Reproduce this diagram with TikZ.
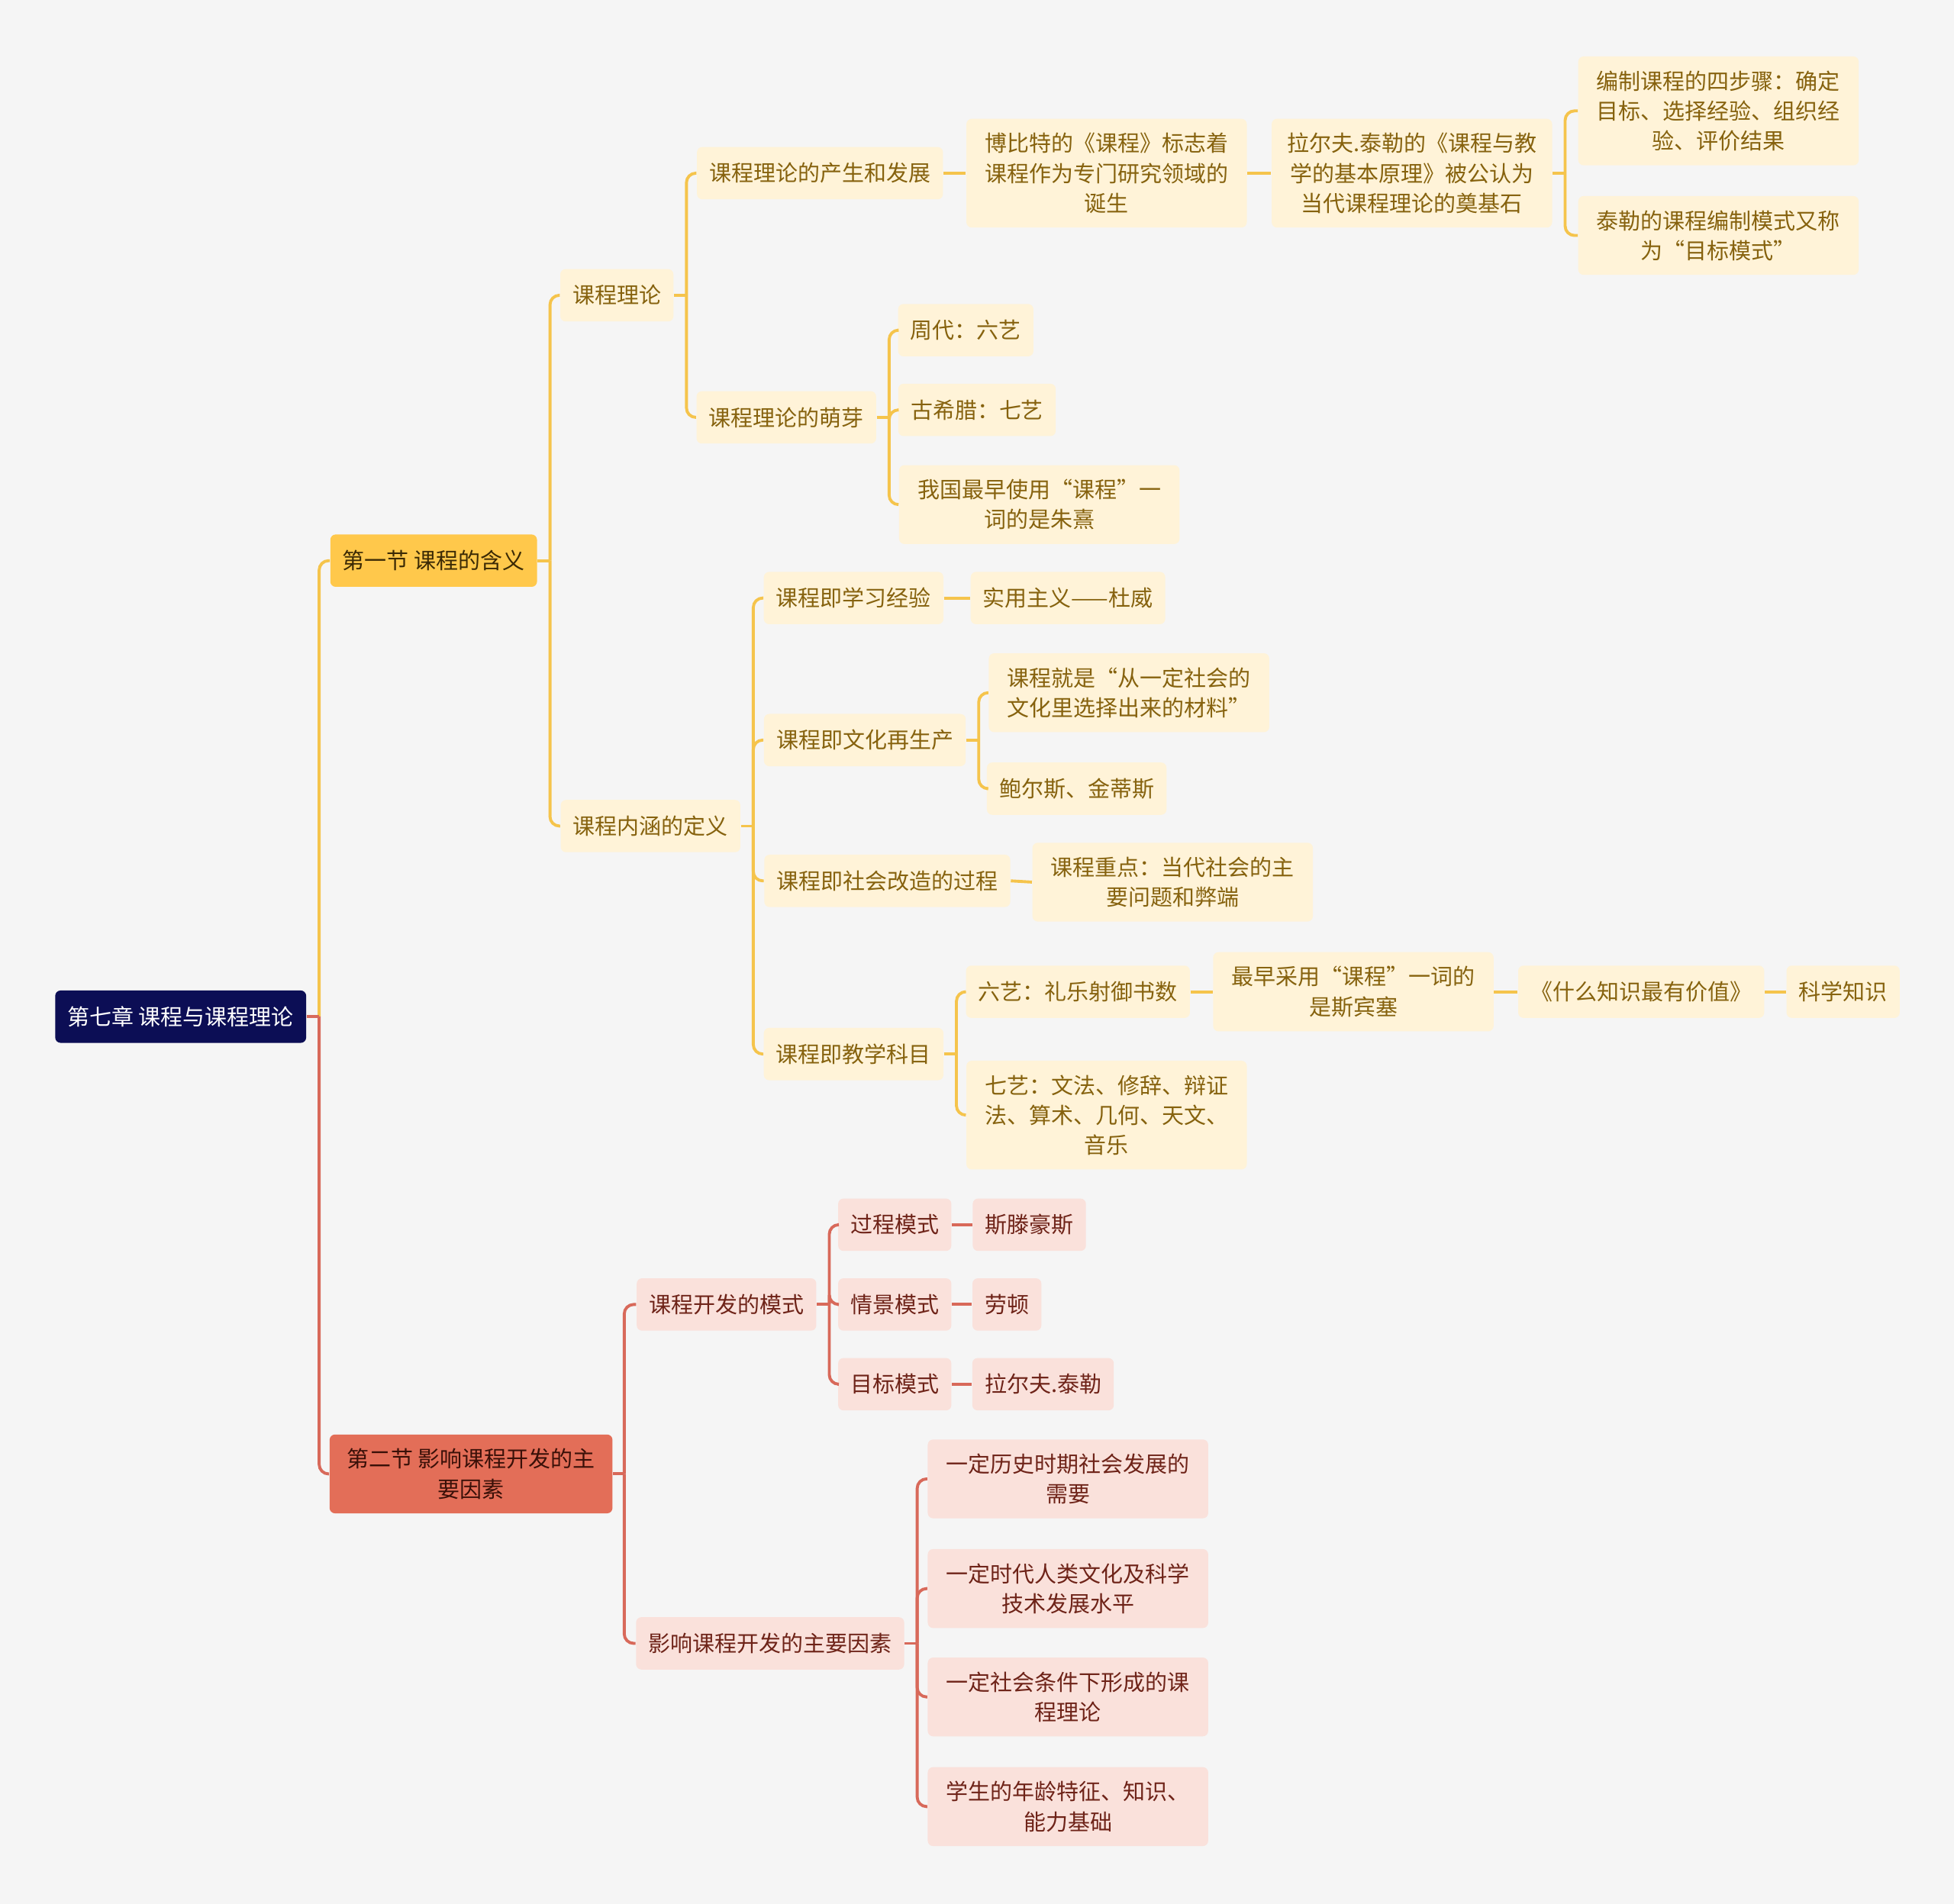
\documentclass[tikz,border=0pt]{standalone}
\usepackage{fontspec}
\setmainfont{Noto Sans CJK SC}
\usepackage{tikz}
\usetikzlibrary{positioning}

\definecolor{bgc}{HTML}{F5F5F5}
\definecolor{rootc}{HTML}{0C0E55}
\definecolor{secyc}{HTML}{FFC84B}
\definecolor{secyt}{HTML}{3B2A05}
\definecolor{secrc}{HTML}{E36E58}
\definecolor{secrt}{HTML}{3A1008}
\definecolor{itemyc}{HTML}{FFF3D8}
\definecolor{itemyt}{HTML}{86620E}
\definecolor{itemrc}{HTML}{FAE1DB}
\definecolor{itemrt}{HTML}{6E2318}
\definecolor{linky}{HTML}{F5C44C}
\definecolor{linkr}{HTML}{D8695A}

\tikzset{
  base/.style={rounded corners=2pt, inner xsep=4.6pt, inner ysep=5.3pt,
               minimum height=0.686cm, align=center,
               font=\fontsize{8.25}{11.15}\selectfont},
  rootbox/.style={base, fill=rootc, text=white},
  secy/.style={base, fill=secyc, text=secyt},
  secr/.style={base, fill=secrc, text=secrt, minimum width=3.706cm},
  itemy/.style={base, fill=itemyc, text=itemyt},
  itemr/.style={base, fill=itemrc, text=itemrt},
  wide/.style={minimum width=3.674cm},
  ylink/.style={draw=linky, line width=1.1pt, rounded corners=3.5pt},
  rlink/.style={draw=linkr, line width=1.1pt, rounded corners=3.5pt},
}

\begin{document}
\begin{tikzpicture}[x=0.016327cm, y=-0.016327cm]
  \fill[bgc] (0,0) rectangle (1568,1528);
  \useasboundingbox (0,0) rectangle (1568,1528);

  % root and sections
  \node[rootbox] (root) at (145,816) {第七章 课程与课程理论};
  \node[secy] (sec1) at (348,450) {第一节 课程的含义};
  \node[secr] (sec2) at (378,1183) {第二节 影响课程开发的主\\要因素};

  % section 1
  \node[itemy] (theory) at (495,237) {课程理论};
  \node[itemy] (define) at (522,663) {课程内涵的定义};

  \node[itemy] (rise) at (658,139) {课程理论的产生和发展};
  \node[itemy] (sprout) at (631,335) {课程理论的萌芽};

  \node[itemy, wide] (bobbitt) at (888,139) {博比特的《课程》标志着\\课程作为专门研究领域的\\诞生};
  \node[itemy, wide] (tyler) at (1133,139) {拉尔夫.泰勒的《课程与教\\学的基本原理》被公认为\\当代课程理论的奠基石};
  \node[itemy, wide] (steps) at (1379,89) {编制课程的四步骤：确定\\目标、选择经验、组织经\\验、评价结果};
  \node[itemy, wide] (goal) at (1379,189) {泰勒的课程编制模式又称\\为“目标模式”};

  \node[itemy] (zhou) at (775,265) {周代：六艺};
  \node[itemy] (greece) at (784,329) {古希腊：七艺};
  \node[itemy, wide] (zhuxi) at (834,405) {我国最早使用“课程”一\\词的是朱熹};

  \node[itemy] (exper) at (685,480) {课程即学习经验};
  \node[itemy] (dewey) at (857,480) {实用主义——杜威};
  \node[itemy] (repro) at (694,594) {课程即文化再生产};
  \node[itemy, wide] (select) at (906,556) {课程就是“从一定社会的\\文化里选择出来的材料”};
  \node[itemy] (bowles) at (864,633) {鲍尔斯、金蒂斯};
  \node[itemy] (reform) at (712,707) {课程即社会改造的过程};
  \node[itemy, wide] (focus) at (941,708) {课程重点：当代社会的主\\要问题和弊端};
  \node[itemy] (subject) at (685,846) {课程即教学科目};
  \node[itemy] (six) at (865,796) {六艺：礼乐射御书数};
  \node[itemy, wide] (spencer) at (1086,796) {最早采用“课程”一词的\\是斯宾塞};
  \node[itemy] (worth) at (1317,796) {《什么知识最有价值》};
  \node[itemy] (science) at (1479,796) {科学知识};
  \node[itemy, wide] (seven) at (888,895) {七艺：文法、修辞、辩证\\法、算术、几何、天文、\\音乐};

  % section 2
  \node[itemr] (modes) at (583,1047) {课程开发的模式};
  \node[itemr] (factors) at (618,1319) {影响课程开发的主要因素};

  \node[itemr] (process) at (718,983) {过程模式};
  \node[itemr] (stenh) at (826,983) {斯滕豪斯};
  \node[itemr] (situ) at (718,1047) {情景模式};
  \node[itemr] (lawton) at (808,1047) {劳顿};
  \node[itemr] (target) at (718,1111) {目标模式};
  \node[itemr] (tyler2) at (837,1111) {拉尔夫.泰勒};

  \node[itemr, wide] (need) at (857,1187) {一定历史时期社会发展的\\需要};
  \node[itemr, wide] (level) at (857,1275) {一定时代人类文化及科学\\技术发展水平};
  \node[itemr, wide] (cond) at (857,1362) {一定社会条件下形成的课\\程理论};
  \node[itemr, wide] (pupil) at (857,1450) {学生的年龄特征、知识、\\能力基础};

  % links of root
  \draw[ylink] (root.east) ++(10,0) |- (sec1.west);
  \draw[rlink] (root.east) ++(10,0) |- (sec2.west);
  \draw[rlink] (root.east) -- ++(10,0);

  % links of section 1
  \draw[ylink] (sec1.east) -- ++(10,0);
  \draw[ylink] (sec1.east) ++(10,0) |- (theory.west);
  \draw[ylink] (sec1.east) ++(10,0) |- (define.west);

  \draw[ylink] (theory.east) -- ++(10,0);
  \draw[ylink] (theory.east) ++(10,0) |- (rise.west);
  \draw[ylink] (theory.east) ++(10,0) |- (sprout.west);
  \draw[ylink] (rise.east) -- (bobbitt.west);
  \draw[ylink] (bobbitt.east) -- (tyler.west);
  \draw[ylink] (tyler.east) -- ++(10,0);
  \draw[ylink] (tyler.east) ++(10,0) |- (steps.west);
  \draw[ylink] (tyler.east) ++(10,0) |- (goal.west);

  \draw[ylink] (sprout.east) -- ++(10,0);
  \draw[ylink] (sprout.east) ++(10,0) |- (zhou.west);
  \draw[ylink] (sprout.east) ++(10,0) |- (greece.west);
  \draw[ylink] (sprout.east) ++(10,0) |- (zhuxi.west);

  \draw[ylink] (define.east) -- ++(10,0);
  \draw[ylink] (define.east) ++(10,0) |- (exper.west);
  \draw[ylink] (define.east) ++(10,0) |- (repro.west);
  \draw[ylink] (define.east) ++(10,0) |- (reform.west);
  \draw[ylink] (define.east) ++(10,0) |- (subject.west);
  \draw[ylink] (exper.east) -- (dewey.west);
  \draw[ylink] (repro.east) -- ++(10,0);
  \draw[ylink] (repro.east) ++(10,0) |- (select.west);
  \draw[ylink] (repro.east) ++(10,0) |- (bowles.west);
  \draw[ylink] (reform.east) -- (focus.west);
  \draw[ylink] (subject.east) -- ++(10,0);
  \draw[ylink] (subject.east) ++(10,0) |- (six.west);
  \draw[ylink] (subject.east) ++(10,0) |- (seven.west);
  \draw[ylink] (six.east) -- (spencer.west);
  \draw[ylink] (spencer.east) -- (worth.west);
  \draw[ylink] (worth.east) -- (science.west);

  % links of section 2
  \draw[rlink] (sec2.east) -- ++(9,0);
  \draw[rlink] (sec2.east) ++(9,0) |- (modes.west);
  \draw[rlink] (sec2.east) ++(9,0) |- (factors.west);

  \draw[rlink] (modes.east) -- ++(10,0);
  \draw[rlink] (modes.east) ++(10,0) |- (process.west);
  \draw[rlink] (modes.east) ++(10,0) |- (situ.west);
  \draw[rlink] (modes.east) ++(10,0) |- (target.west);
  \draw[rlink] (process.east) -- (stenh.west);
  \draw[rlink] (situ.east) -- (lawton.west);
  \draw[rlink] (target.east) -- (tyler2.west);

  \draw[rlink] (factors.east) -- ++(10,0);
  \draw[rlink] (factors.east) ++(10,0) |- (need.west);
  \draw[rlink] (factors.east) ++(10,0) |- (level.west);
  \draw[rlink] (factors.east) ++(10,0) |- (cond.west);
  \draw[rlink] (factors.east) ++(10,0) |- (pupil.west);
\end{tikzpicture}
\end{document}
